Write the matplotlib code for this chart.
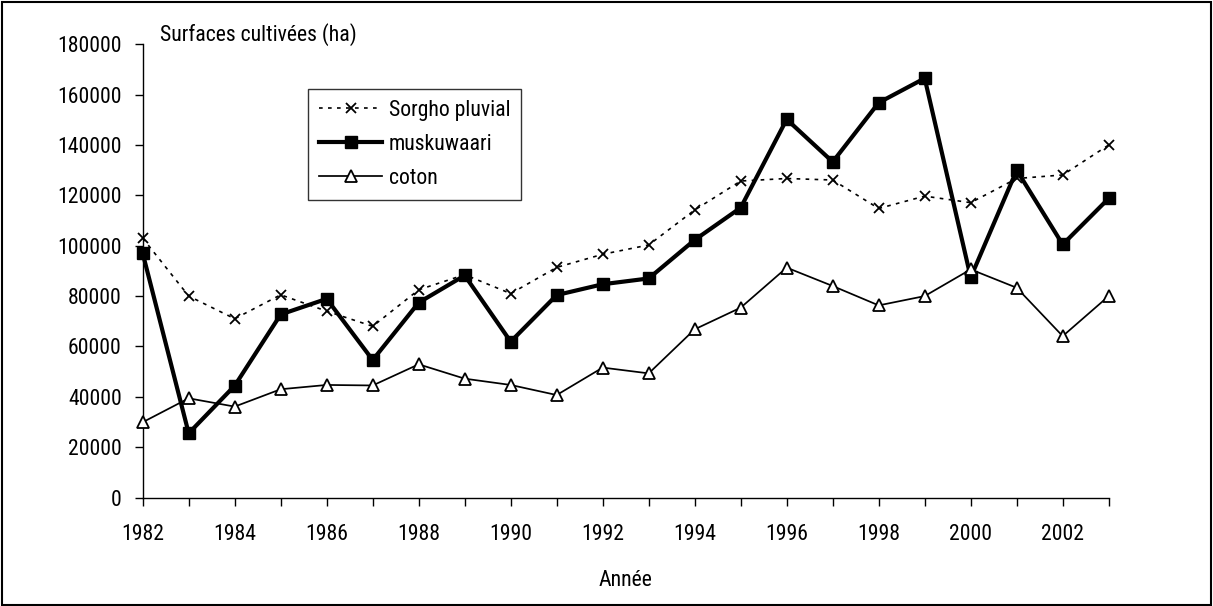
import matplotlib
matplotlib.use("Agg")
import matplotlib.pyplot as plt
from matplotlib import font_manager
from matplotlib.patches import Rectangle

years = list(range(1982, 2004))
sorgho_pluvial = [103000, 80000, 71000, 80500, 74000, 68000, 82500, 88500, 81000,
                  91400, 96600, 100300, 114200, 125700, 126700, 126100, 114800,
                  119700, 117100, 126700, 128100, 140000]
muskuwaari = [97000, 25500, 44400, 72700, 78900, 54600, 77400, 88200, 61900,
              80400, 84700, 87000, 102300, 115100, 150200, 133300, 156800,
              166500, 87400, 130000, 100500, 118800]
coton = [29900, 39400, 36100, 43000, 44700, 44500, 52900, 47200, 44700,
         40700, 51600, 49300, 66800, 75400, 91300, 84000, 76300,
         80000, 90600, 83300, 64100, 80000]
series_labels = ["Sorgho pluvial", "muskuwaari", "coton"]
x_ticks = list(range(1982, 2003, 2))
y_ticks = list(range(0, 180001, 20000))
y_title = "Surfaces cultivées (ha)"
x_title = "Année"

names = {f.name for f in font_manager.fontManager.ttflist}
fam = "Liberation Sans"
narrow = False
for cand in ["Liberation Sans Narrow", "Arial Narrow", "Roboto Condensed"]:
    if cand in names:
        fam = cand
        narrow = True
        break
plt.rcParams["font.family"] = [fam, "DejaVu Sans"]
fs = 15.7 if narrow else 14.5

W, H = 1213, 606
fig = plt.figure(figsize=(W / 100, H / 100), dpi=100)
ax = fig.add_axes([142.7 / W, (H - 497.5) / H, (1108.7 - 142.7) / W, (497.5 - 44.3) / H])

ax.plot(years, sorgho_pluvial, color="black", lw=1.2, linestyle=(0, (2.2, 3.2)),
        marker="x", markersize=7.5, markeredgewidth=1.3, label=series_labels[0],
        clip_on=False, zorder=3)
ax.plot(years, muskuwaari, color="black", lw=3.0, marker="s", markersize=8,
        markerfacecolor="black", label=series_labels[1], clip_on=False, zorder=4)
ax.plot(years, coton, color="black", lw=1.25, marker="^", markersize=8,
        markerfacecolor="white", markeredgewidth=1.3, label=series_labels[2],
        clip_on=False, zorder=5)

ax.set_xlim(1982, 2003)
ax.set_ylim(0, 180000)
ax.set_xticks(years)
ax.set_xticklabels([str(y) if y in x_ticks else "" for y in years])
ax.set_yticks(y_ticks)
ax.set_yticklabels([str(v) for v in y_ticks])
for s in ["top", "right"]:
    ax.spines[s].set_visible(False)
for s in ["left", "bottom"]:
    ax.spines[s].set_linewidth(1.0)
    ax.spines[s].set_color("black")
ax.tick_params(axis="both", direction="out", length=6, width=1.0, labelsize=fs,
               colors="black")
ax.tick_params(axis="x", pad=13)
ax.tick_params(axis="y", pad=9)
ax.set_xlabel(x_title, fontsize=fs, labelpad=18)

fig.text(160 / W, 1 - 35 / H, y_title, fontsize=fs, ha="left", va="center")

leg = ax.legend(loc="upper left", bbox_to_anchor=((308 - 142.7) / (1108.7 - 142.7),
                                                  (497.5 - 89) / (497.5 - 44.3)),
                frameon=True, fancybox=False, edgecolor="black", fontsize=fs,
                handlelength=2.9, handletextpad=0.3, labelspacing=0.6,
                borderpad=0.5, borderaxespad=0)
leg.get_frame().set_linewidth(1.0)

fig.patches.append(Rectangle((1.5 / W, 1.5 / H), 1 - 3.5 / W, 1 - 3.5 / H,
                             transform=fig.transFigure, fill=False,
                             edgecolor="black", lw=1.5))

fig.savefig("out.png", dpi=100)
